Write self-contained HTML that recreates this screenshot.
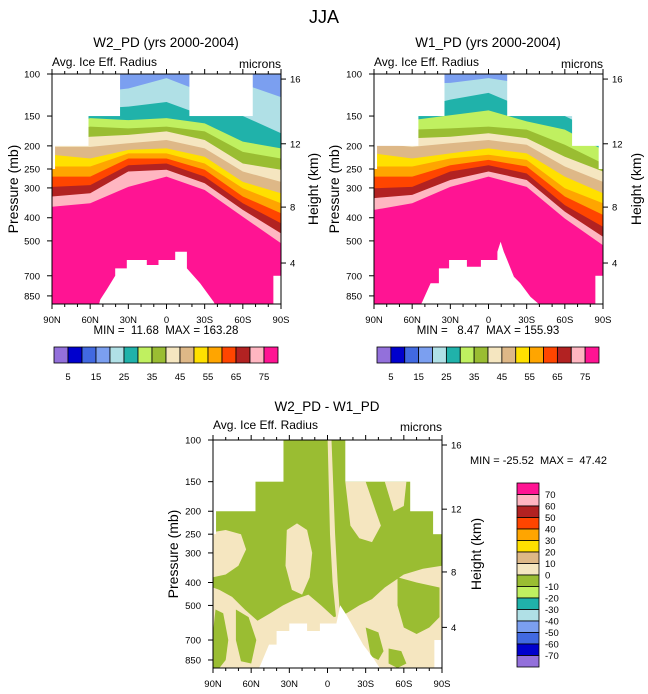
<!DOCTYPE html>
<html><head><meta charset="utf-8"><style>
html,body{margin:0;padding:0;background:#fff;}
svg{display:block;font-family:"Liberation Sans",Arial,sans-serif;}
</style></head><body>
<svg id="fig" width="648" height="694" viewBox="0 0 648 694" xmlns="http://www.w3.org/2000/svg">
<text x="324" y="23" font-size="18" text-anchor="middle">JJA</text>
<text x="166" y="47" font-size="13.5" text-anchor="middle">W2_PD (yrs 2000-2004)</text>
<text x="488" y="47" font-size="13.5" text-anchor="middle">W1_PD (yrs 2000-2004)</text>
<text x="52" y="66" font-size="12">Avg. Ice Eff. Radius</text>
<text x="281" y="68" font-size="12" text-anchor="end">microns</text>
<text x="374" y="66" font-size="12">Avg. Ice Eff. Radius</text>
<text x="603" y="68" font-size="12" text-anchor="end">microns</text>
<text x="166" y="334" font-size="11.5" text-anchor="middle" xml:space="preserve">MIN =  11.68  MAX = 163.28</text>
<text x="488" y="334" font-size="11.5" text-anchor="middle" xml:space="preserve">MIN =   8.47  MAX = 155.93</text>
<text x="327" y="411" font-size="13.5" text-anchor="middle">W2_PD - W1_PD</text>
<text x="213" y="429" font-size="12">Avg. Ice Eff. Radius</text>
<text x="442" y="431" font-size="12" text-anchor="end">microns</text>
<text x="470" y="464" font-size="11" xml:space="preserve">MIN = -25.52  MAX =  47.42</text>
<text transform="translate(18,189) rotate(-90)" font-size="14" text-anchor="middle">Pressure (mb)</text>
<text transform="translate(318,189) rotate(-90)" font-size="14" text-anchor="middle">Height (km)</text>
<text transform="translate(339,189) rotate(-90)" font-size="14" text-anchor="middle">Pressure (mb)</text>
<text transform="translate(641,189) rotate(-90)" font-size="14" text-anchor="middle">Height (km)</text>
<text transform="translate(178,554) rotate(-90)" font-size="14" text-anchor="middle">Pressure (mb)</text>
<text transform="translate(481,554) rotate(-90)" font-size="14" text-anchor="middle">Height (km)</text>
</svg>
<script>
// ---------- data ----------
const colors = ['#9370db','#0000cd','#4169e1','#7b9ff0','#b0e0e6','#20b2aa','#c0f060','#9abd32','#f5e6c0','#deb887','#ffe000','#ffa500','#ff4500','#b22222','#ffb6c1','#ff1493'];
const levels = [75,70,65,60,55,50,45,40,35,30,25,20];
const contourLats = [90,60,30,0,-30,-60,-90];
// W2_PD contour pressures (hPa) at contourLats for each level
const w2c75 = [360,348,297,269,306,396,512];
const w2c70 = [326,316,256,252,287,371,465];
const w2c65 = [297,292,241,237,269,348,422];
const w2c60 = [269,269,226,226,252,326,383];
const w2c55 = [244,244,215,215,237,301,348];
const w2c50 = [218,226,208,205,222,283,316];
const w2c45 = [202,202,195,189,205,256,283];
const w2c40 = [190,183,180,174,189,237,252];
const w2c35 = [180,166,169,166,174,212,226];
const w2c30 = [170,153,156,153,161,192,205];
const w2c25 = [150,140,137,131,150,150,177];
const w2c20 = [95,120,115,104,120,110,125];
// W1_PD contour pressures
const w1c75 = [371,348,297,269,297,403,521];
const w1c70 = [331,321,278,256,278,377,480];
const w1c65 = [301,297,256,241,261,354,436];
const w1c60 = [269,269,241,229,244,326,389];
const w1c55 = [244,244,226,218,229,301,348];
const w1c50 = [215,226,215,205,215,269,316];
const w1c45 = [195,202,195,189,198,244,283];
const w1c40 = [185,186,183,177,186,222,256];
const w1c35 = [175,171,169,166,171,198,237];
const w1c30 = [165,156,149,142,158,171,208];
const w1c25 = [140,140,128,120,140,150,180];
const w1c20 = [95,110,109,104,110,120,150];
// missing-data masks (top: lat from, lat to, pressure)
const w2MaskLat0 = [90,88,61.7,-18];
const w2MaskLat1 = [88,61.7,36.9,-67.4];
const w2MaskP = [250,200,150,150];
const w1MaskLat0 = [90,88,55.5,-14.7,-65.7,-86.6];
const w1MaskLat1 = [88,55.5,35,-65.7,-86.6,-90];
const w1MaskP = [250,200,150,150,200,250];
const dMaskLat0 = [90,88,57,-14,-65,-83];
const dMaskLat1 = [88,57,35,-65,-83,-90];
const dMaskP = [250,200,150,150,200,250];
// terrain (below-ground) outlines
const w2GroundLat = [53,52,47,40.3,40.3,31.2,31.2,15.5,15.5,6.3,6.3,-6.8,-6.8,-16,-16,-26.4,-37,-38];
const w2GroundP  = [919,880,800,700,652,652,601,601,631,631,601,601,555,555,652,753,900,919];
const w1GroundLat = [53,52,45.5,39,39,31,31,17,17,6,6,-7,-7,-9.5,-12,-14.7,-20,-25,-33,-39.5,-40];
const w1GroundP  = [919,900,753,753,652,652,601,601,642,642,601,601,555,504,555,601,707,753,858,919,919];
const dGroundLat = [54,53,46,40,40,30,30,16,16,6,6,-7,-10,-15,-22,-28,-36,-41,-42];
const dGroundP  = [919,900,732,732,641,641,596,596,641,641,596,596,499,550,641,732,835,919,919];
const edgeLat = [-84,-90];
const edgeP = [700,700];
// difference field shapes (color index, lat, p)
const diffOliveLat1 = [90,-90,-90,-75,-60,-45,-35,-25,-15,-5,5,15,25,35,45,55,65,75,85,90];
const diffOliveP1   = [90,90,340,350,370,420,470,500,540,560,500,450,470,500,540,580,520,460,430,420];
const diffWheatLat1 = [90,80,68,64,70,80,90];
const diffWheatP1   = [245,240,250,290,340,370,380];
const diffWheatLat2 = [32,24,16,12,14,20,28,33];
const diffWheatP2   = [240,225,240,300,380,450,430,340];
const diffWheatLat3 = [0,-3,-6,-8,-10,-7,-4,-2];
const diffWheatP3   = [95,95,250,400,560,580,400,250];
const diffWheatLat4 = [-14,-30,-38,-42,-35,-25,-18];
const diffWheatP4   = [150,150,200,230,270,260,230];
const diffWheatLat5 = [-45,-62,-60,-52];
const diffWheatP5   = [150,150,190,200];
const diffOliveLat2 = [88,82,78,80,85,90,90];
const diffOliveP2   = [520,540,700,850,919,919,650];
const diffOliveLat3 = [72,62,56,60,68,72];
const diffOliveP3   = [520,560,700,880,860,700];
const diffOliveLat4 = [-55,-70,-88,-88,-80,-70,-60,-55];
const diffOliveP4   = [380,400,420,560,620,660,620,500];
const diffOliveLat5 = [-30,-40,-44,-40,-34];
const diffOliveP5   = [620,650,780,850,820];
const diffOliveLat6 = [-48,-58,-62,-55,-48];
const diffOliveP6   = [760,780,880,919,880];
// axis ticks
const pTicks = [100,150,200,250,300,400,500,700,850];
const latTicks = [90,60,30,0,-30,-60,-90];
const latLabels = ['90N','60N','30N','0','30S','60S','90S'];
const hTickLabels = [4,8,12,16];
const hTickP = [619,361,196,105];
const barLabelsTop = [5,15,25,35,45,55,65,75];
const barLabelsDiff = [70,60,50,40,30,20,10,0,-10,-20,-30,-40,-50,-60,-70];

// ---------- drawing ----------
const NS = 'http://www.w3.org/2000/svg';
const svg = document.getElementById('fig');
const PB = 919;
function mk(tag, attrs, parent){ const e=document.createElementNS(NS,tag); for(const k in attrs) e.setAttribute(k,attrs[k]); (parent||svg).appendChild(e); return e; }
function pts(X,Y,lats,ps){ return lats.map((l,i)=>X(l).toFixed(1)+','+Y(ps[i]).toFixed(1)).join(' '); }

function drawPanel(id, x0, y0, w, h, contours, baseColor, shapes, mLat0, mLat1, mP, gLat, gP){
  const X = lat => x0 + (90-lat)/180*w;
  const Y = p => y0 + h*Math.log(p/100)/Math.log(PB/100);
  const defs = mk('defs',{});
  const cp = mk('clipPath',{id:'clip-'+id},defs);
  mk('rect',{x:x0,y:y0,width:w,height:h},cp);
  const g = mk('g',{'clip-path':'url(#clip-'+id+')'});
  
  
  const base = mk('rect',{x:x0,y:y0,width:w,height:h,fill:baseColor},g);
  
  
  contours.forEach((c,i)=>{
    const lats=[90,-90].concat(contourLats.slice().reverse());
    const ps=[80,80].concat(c.slice().reverse());
    const poly = mk('polygon',{points:pts(X,Y,lats,ps),fill:colors[levels[i]/5-1]},g);
    
    
  });
  shapes.forEach((s,i)=>{
    const poly = mk('polygon',{points:pts(X,Y,s[1],s[2]),fill:colors[s[0]]},g);
    
    
  });
  mLat0.forEach((l0,i)=>{
    const r = mk('rect',{x:Math.min(X(l0),X(mLat1[i])),y:y0-1,width:Math.abs(X(mLat1[i])-X(l0))+0.5,height:Y(mP[i])-y0+1,fill:'#fff'},g);
    
    
  });
  const gr = mk('polygon',{points:pts(X,Y,gLat,gP),fill:'#fff'},g);
  
  
  const ed = mk('rect',{x:X(edgeLat[0]),y:Y(edgeP[0]),width:X(edgeLat[1])-X(edgeLat[0])+1,height:y0+h-Y(edgeP[0])+1,fill:'#fff'},g);
  
  
  const fr = mk('rect',{x:x0,y:y0,width:w,height:h,fill:'none',stroke:'#000','stroke-width':1});
  
  
  for(let lat=90; lat>=-90; lat-=10){
    const major = lat%30===0, L = major?5:3;
    const t1 = mk('line',{x1:X(lat),x2:X(lat),y1:y0+h,y2:y0+h+L,stroke:'#000'});
    
    
    const t2 = mk('line',{x1:X(lat),x2:X(lat),y1:y0,y2:y0-L,stroke:'#000'});
    
    
  }
  latTicks.forEach((lat,i)=>{
    const t = mk('text',{x:X(lat),y:y0+h+19,'font-size':9.5,'text-anchor':'middle'});
    t.textContent = latLabels[i];
    
    
  });
  pTicks.forEach(p=>{
    const t = mk('line',{x1:x0-5,x2:x0,y1:Y(p),y2:Y(p),stroke:'#000'});
    
    
    const lb = mk('text',{x:x0-12,y:Y(p)+3.5,'font-size':9.5,'text-anchor':'end'});
    lb.textContent = p;
    
    
  });
  hTickLabels.forEach((hv,i)=>{
    const t = mk('line',{x1:x0+w,x2:x0+w+5,y1:Y(hTickP[i]),y2:Y(hTickP[i]),stroke:'#000'});
    
    
    const lb = mk('text',{x:x0+w+9,y:Y(hTickP[i])+3.5,'font-size':9.5});
    lb.textContent = hv;
    
    
  });
}

drawPanel('w2', 52, 74, 229, 230,
  [w2c75,w2c70,w2c65,w2c60,w2c55,w2c50,w2c45,w2c40,w2c35,w2c30,w2c25,w2c20], colors[15], [],
  w2MaskLat0, w2MaskLat1, w2MaskP, w2GroundLat, w2GroundP);
drawPanel('w1', 374, 74, 229, 230,
  [w1c75,w1c70,w1c65,w1c60,w1c55,w1c50,w1c45,w1c40,w1c35,w1c30,w1c25,w1c20], colors[15], [],
  w1MaskLat0, w1MaskLat1, w1MaskP, w1GroundLat, w1GroundP);
drawPanel('diff', 213, 440, 229, 228, [], colors[8],
  [[7,diffOliveLat1,diffOliveP1],[8,diffWheatLat1,diffWheatP1],[8,diffWheatLat2,diffWheatP2],[8,diffWheatLat3,diffWheatP3],
   [8,diffWheatLat4,diffWheatP4],[8,diffWheatLat5,diffWheatP5],[7,diffOliveLat2,diffOliveP2],[7,diffOliveLat3,diffOliveP3],
   [7,diffOliveLat4,diffOliveP4],[7,diffOliveLat5,diffOliveP5],[7,diffOliveLat6,diffOliveP6]],
  dMaskLat0, dMaskLat1, dMaskP, dGroundLat, dGroundP);

function hBar(id, x0, x1){
  const bw = (x1-x0)/16;
  colors.forEach((c,i)=>{
    const r = mk('rect',{x:x0+i*bw,y:347,width:bw,height:16,fill:c,stroke:'#000','stroke-width':0.8});
    
    
  });
  barLabelsTop.forEach((v,i)=>{
    const t = mk('text',{x:x0+(2*i+1)*bw,y:380,'font-size':9.5,'text-anchor':'middle'});
    t.textContent = v;
    
    
  });
}
hBar('w2', 54, 278);
hBar('w1', 377, 599);

const lx=517, ly0=483, ly1=667, bh=(ly1-ly0)/16;
colors.slice().reverse().forEach((c,i)=>{
  const r = mk('rect',{x:lx,y:ly0+i*bh,width:22,height:bh,fill:c,stroke:'#000','stroke-width':0.8});
  
  
});
barLabelsDiff.forEach((v,i)=>{
  const t = mk('text',{x:545,y:ly0+(i+1)*bh+3.5,'font-size':9.5});
  t.textContent = v;
  
  
});
</script>
</body></html>
